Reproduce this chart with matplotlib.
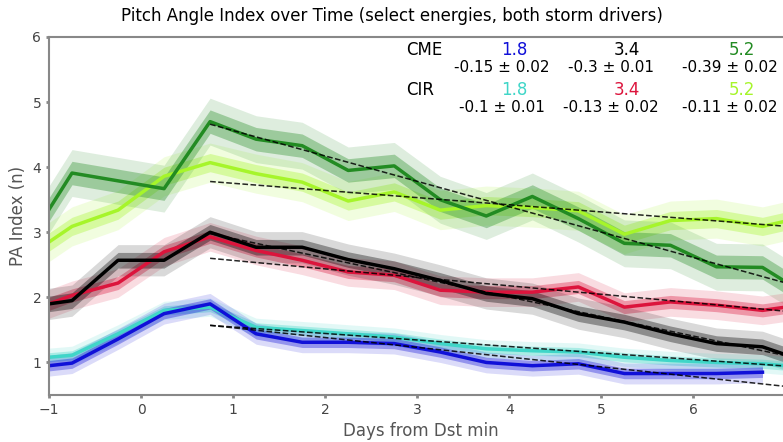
import numpy as np
import matplotlib
matplotlib.use('Agg')
import matplotlib.pyplot as plt

# bin centres (days from Dst min)
days = [-1, -0.75, -0.25, 0.25, 0.75, 1.25, 1.75, 2.25, 2.75, 3.25, 3.75,
        4.25, 4.75, 5.25, 5.75, 6.25, 6.75, 7.25]

# CME storms
cme_18 = [0.95, 0.99, 1.36, 1.75, 1.90, 1.44, 1.31, 1.31, 1.29, 1.16, 1.00,
          0.95, 0.98, 0.83, 0.83, 0.83, 0.85, np.nan]
cme_34 = [1.90, 1.95, 2.57, 2.57, 3.00, 2.77, 2.77, 2.58, 2.44, 2.26, 2.06,
          1.98, 1.75, 1.62, 1.44, 1.29, 1.24, 1.00]
cme_52 = [3.35, 3.91, 3.79, 3.67, 4.70, 4.43, 4.33, 3.95, 4.02, 3.50, 3.25,
          3.55, 3.21, 2.83, 2.80, 2.47, 2.46, 2.02]
# CIR storms
cir_18 = [1.08, 1.11, 1.44, 1.80, 1.85, 1.54, 1.49, 1.44, 1.39, 1.29, 1.21,
          1.18, 1.16, 1.08, 1.03, 1.00, 0.98, 0.92]
cir_34 = [1.90, 2.03, 2.22, 2.70, 2.93, 2.72, 2.57, 2.39, 2.34, 2.11, 2.08,
          2.08, 2.16, 1.85, 1.93, 1.88, 1.80, 1.90]
cir_52 = [2.85, 3.09, 3.34, 3.86, 4.07, 3.90, 3.77, 3.48, 3.62, 3.34, 3.41,
          3.38, 3.33, 2.97, 3.18, 3.21, 3.09, 3.25]

# uncertainty half widths (inner / outer band)
err_in = {'cme_18': 0.08, 'cme_34': 0.12, 'cme_52': 0.18,
          'cir_18': 0.07, 'cir_34': 0.10, 'cir_52': 0.14}
err_out = {'cme_18': 0.16, 'cme_34': 0.24, 'cme_52': 0.36,
           'cir_18': 0.14, 'cir_34': 0.22, 'cir_52': 0.30}

# linear fits after the peak: start value at day 0.75 and slope
fit_start = 0.75
fit_y0 = {'cme_18': 1.57, 'cme_34': 2.98, 'cme_52': 4.66,
          'cir_18': 1.57, 'cir_34': 2.60, 'cir_52': 3.78}
slopes = {'cme_18': -0.15, 'cme_34': -0.30, 'cme_52': -0.39,
          'cir_18': -0.10, 'cir_34': -0.13, 'cir_52': -0.11}
slope_err = {'cme_18': 0.02, 'cme_34': 0.01, 'cme_52': 0.02,
             'cir_18': 0.01, 'cir_34': 0.02, 'cir_52': 0.02}

series = [('cir_52', cir_52, '#a6f52a'), ('cme_52', cme_52, '#228b22'),
          ('cir_34', cir_34, '#dc143c'), ('cme_34', cme_34, 'black'),
          ('cir_18', cir_18, '#40d6c8'), ('cme_18', cme_18, '#1010d8')]

fig = plt.figure(figsize=(7.83, 4.42), dpi=100)
ax = fig.add_axes([49/783, 47/442, 0.95, 358/442])

x = np.array(days)
for key, vals, col in series:
    y = np.array(vals, dtype=float)
    ax.fill_between(x, y - err_out[key], y + err_out[key], color=col, alpha=0.15, lw=0)
    ax.fill_between(x, y - err_in[key], y + err_in[key], color=col, alpha=0.35, lw=0)
    ax.plot(x, y, color=col, lw=2.5)

xf = np.array([fit_start, 7.1])
for key, vals, col in series:
    ax.plot(xf, fit_y0[key] + slopes[key] * (xf - fit_start), 'k--', lw=1.1, alpha=0.85)

ax.set_xlim(-1, 7.08)
ax.set_ylim(0.5, 6)
ax.set_yticks([1, 2, 3, 4, 5, 6])
ax.set_xticks([-1, 0, 1, 2, 3, 4, 5, 6])
ax.set_xticklabels(['\u22121', '0', '1', '2', '3', '4', '5', '6'])
for s in ['left', 'bottom', 'top']:
    ax.spines[s].set_color('#888888')
    ax.spines[s].set_linewidth(1.5)
ax.spines['right'].set_visible(False)
ax.tick_params(colors='#888888', labelcolor='#444444', length=2, width=2, labelsize=10)
ax.set_xlabel('Days from Dst min', fontsize=12, color='#555555')
ax.set_ylabel('PA Index (n)', fontsize=12, color='#555555')
fig.text(0.5, 0.985, 'Pitch Angle Index over Time (select energies, both storm drivers)',
         ha='center', va='top', fontsize=12)

# slope table
col_x = [502, 611, 730]
hdr_x = [514, 627, 742]
energies = ['1.8', '3.4', '5.2']
for row, (name, y_hdr, y_val) in enumerate([('CME', 50, 68), ('CIR', 90, 107)]):
    prefix = name.lower()
    fig.text(406/783, 1 - y_hdr/442, name, fontsize=12, va='center', ha='left')
    for i, e in enumerate(energies):
        key = prefix + '_' + e.replace('.', '')
        col = [c for k, v, c in series if k == key][0]
        fig.text(hdr_x[i]/783, 1 - y_hdr/442, e, color=col, fontsize=12, ha='center', va='center')
        fig.text(col_x[i]/783, 1 - y_val/442, f'{slopes[key]:g} \u00b1 {slope_err[key]:g}',
                 fontsize=11, ha='center', va='center')

plt.savefig('out.png', dpi=100)
